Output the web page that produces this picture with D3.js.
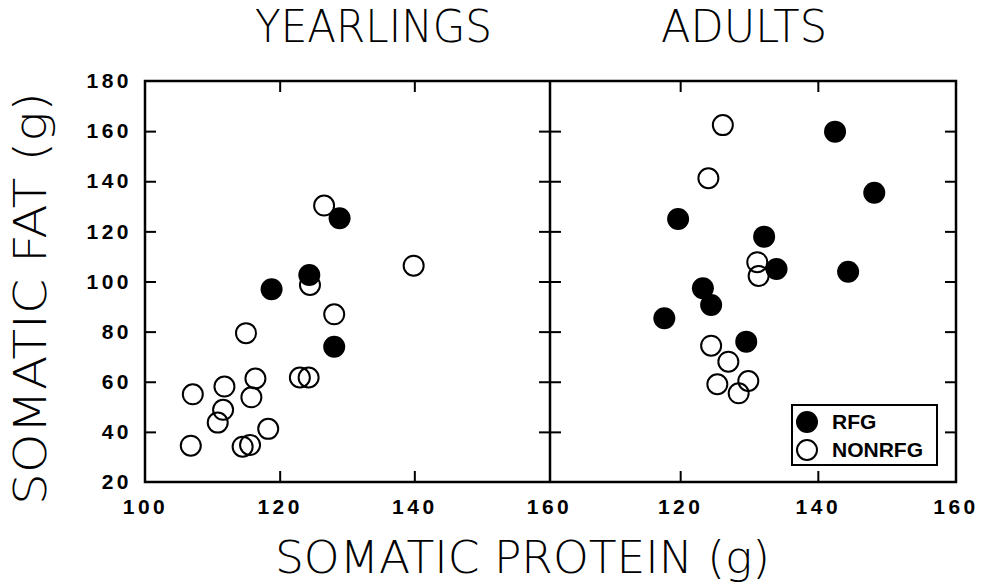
<!DOCTYPE html>
<html>
<head>
<meta charset="utf-8">
<script src="https://cdn.jsdelivr.net/npm/d3@7"></script>
<style>
  body { margin: 0; background: #fff; }
  .tick-label { font-family: "Liberation Sans", Arial, sans-serif; font-weight: bold; font-size: 21px; letter-spacing: 3.5px; fill: #000; }
  .title { font-family: "DejaVu Sans", sans-serif; font-weight: 200; font-size: 44px; fill: #000; }
</style>
</head>
<body>
<div id="chart"></div>
<script>
// panel titles and axis ticks
const panelNames = ["YEARLINGS", "ADULTS"];
const proteinTicks = [100, 120, 140, 160];
const fatTicks = [20, 40, 60, 80, 100, 120, 140, 160, 180];
const legendLabels = ["RFG", "NONRFG"];

// yearlings, RFG (filled)
const yearlingRfgProtein = [118.8, 124.4, 128.9, 128.1];
const yearlingRfgFat     = [96.9, 102.6, 125.2, 74.0];

// yearlings, NONRFG (open)
const yearlingNonProtein = [126.6, 139.9, 124.5, 128.1, 115.0, 123.0, 124.3, 116.4, 111.8, 107.1, 115.8, 111.6, 110.8, 118.3, 106.8, 114.5, 115.6];
const yearlingNonFat     = [130.3, 106.3, 98.6, 86.9, 79.4, 61.7, 61.7, 61.3, 58.1, 55.0, 53.8, 48.8, 43.7, 41.2, 34.5, 34.1, 34.8];

// adults, RFG (filled)
const adultRfgProtein = [142.5, 148.2, 119.7, 132.2, 134.0, 144.4, 123.3, 124.5, 117.7, 129.6];
const adultRfgFat     = [159.8, 135.4, 124.9, 117.9, 105.0, 103.9, 97.3, 90.6, 85.3, 76.0];

// adults, NONRFG (open)
const adultNonProtein = [126.2, 124.1, 131.2, 131.4, 124.5, 127.0, 129.9, 125.4, 128.5];
const adultNonFat     = [162.4, 141.2, 107.7, 102.2, 74.4, 68.0, 60.3, 59.0, 55.4];

const W = 986, H = 587;
const plotTop = 81, plotBottom = 482, plotLeft = 145, plotMid = 550, plotRight = 956;
const tick = 11;

const svg = d3.select("#chart").append("svg")
    .attr("width", W)
    .attr("height", H);

const y = d3.scaleLinear().domain([20, 180]).range([plotBottom, plotTop]);
const xL = d3.scaleLinear().domain([100, 160]).range([plotLeft, plotMid - 1]);
// right panel's 100 sits a little left of the divider in the original
const xR = d3.scaleLinear().domain([100, 160]).range([542.5, plotRight - 0.5]);

function zip(a, b) { return a.map((v, i) => [v, b[i]]); }

function cleanAxis(g, hideVals) {
    g.select(".domain").remove();
    g.selectAll(".tick line").attr("stroke", "#000").attr("stroke-width", 2);
    if (hideVals) g.selectAll(".tick").filter(d => hideVals.includes(d)).select("line").remove();
}

// y axis with labels on left edge
svg.append("g")
    .attr("transform", `translate(${plotLeft},0)`)
    .call(d3.axisLeft(y).tickValues(fatTicks).tickSizeInner(-tick).tickSizeOuter(0).tickPadding(13))
    .call(g => cleanAxis(g, [20, 180]))
    .call(g => g.selectAll("text").attr("class", "tick-label").attr("font-size", null).attr("font-family", null));

// ticks on divider (both sides) and right edge
svg.append("g").attr("transform", `translate(${plotMid},0)`)
    .call(d3.axisLeft(y).tickValues(fatTicks).tickSize(tick).tickFormat(""))
    .call(g => cleanAxis(g, [20, 180]));
svg.append("g").attr("transform", `translate(${plotMid},0)`)
    .call(d3.axisRight(y).tickValues(fatTicks).tickSize(tick).tickFormat(""))
    .call(g => cleanAxis(g, [20, 180]));
svg.append("g").attr("transform", `translate(${plotRight},0)`)
    .call(d3.axisRight(y).tickValues(fatTicks).tickSize(-tick).tickFormat(""))
    .call(g => cleanAxis(g, [20, 180]));

// x axes
[[xL, proteinTicks], [xR, proteinTicks.slice(1)]].forEach(([x, vals]) => {
    svg.append("g")
        .attr("transform", `translate(0,${plotBottom})`)
        .call(d3.axisBottom(x).tickValues(vals).tickSizeInner(-tick).tickSizeOuter(0).tickPadding(17))
        .call(g => cleanAxis(g, [100, 160]))
        .call(g => g.selectAll("text").attr("class", "tick-label").attr("font-size", null).attr("font-family", null));
    svg.append("g")
        .attr("transform", `translate(0,${plotTop})`)
        .call(d3.axisTop(x).tickValues(vals).tickSize(-tick).tickFormat(""))
        .call(g => cleanAxis(g, [100, 160]));
});

// frame
svg.append("rect")
    .attr("x", plotLeft).attr("y", plotTop)
    .attr("width", plotRight - plotLeft).attr("height", plotBottom - plotTop)
    .attr("fill", "none").attr("stroke", "#000").attr("stroke-width", 2.5);
svg.append("line")
    .attr("x1", plotMid).attr("x2", plotMid).attr("y1", plotTop).attr("y2", plotBottom)
    .attr("stroke", "#000").attr("stroke-width", 2.5);

// points
function drawPoints(x, protein, fat, filled) {
    svg.append("g").selectAll("circle")
        .data(zip(protein, fat))
        .enter().append("circle")
        .attr("cx", d => x(d[0]))
        .attr("cy", d => y(d[1]))
        .attr("r", filled ? 11 : 10)
        .attr("fill", filled ? "#000" : "none")
        .attr("stroke", "#000")
        .attr("stroke-width", filled ? 0 : 2);
}
drawPoints(xL, yearlingNonProtein, yearlingNonFat, false);
drawPoints(xL, yearlingRfgProtein, yearlingRfgFat, true);
drawPoints(xR, adultNonProtein, adultNonFat, false);
drawPoints(xR, adultRfgProtein, adultRfgFat, true);

// legend
const legend = svg.append("g").attr("transform", "translate(792,405)");
legend.append("rect")
    .attr("width", 145).attr("height", 60)
    .attr("fill", "#fff").attr("stroke", "#000").attr("stroke-width", 2);
legendLabels.forEach((lab, i) => {
    legend.append("circle")
        .attr("cx", 15).attr("cy", 17 + i * 28)
        .attr("r", i === 0 ? 11 : 10)
        .attr("fill", i === 0 ? "#000" : "none")
        .attr("stroke", "#000").attr("stroke-width", i === 0 ? 0 : 2);
    legend.append("text")
        .attr("x", 40).attr("y", 24 + i * 28)
        .style("font-family", "Liberation Sans, Arial, sans-serif")
        .style("font-weight", "bold").style("font-size", "21px")
        .text(lab);
});

// titles
svg.append("text").attr("class", "title")
    .attr("x", 255).attr("y", 42)
    .attr("textLength", 237).attr("lengthAdjust", "spacingAndGlyphs")
    .text(panelNames[0]);
svg.append("text").attr("class", "title")
    .attr("x", 661).attr("y", 42)
    .attr("textLength", 166).attr("lengthAdjust", "spacingAndGlyphs")
    .text(panelNames[1]);

svg.append("text").attr("class", "title")
    .attr("x", 275).attr("y", 573)
    .attr("textLength", 495).attr("lengthAdjust", "spacingAndGlyphs")
    .text("SOMATIC PROTEIN (g)");

svg.append("text").attr("class", "title")
    .attr("transform", "translate(46,505) rotate(-90)")
    .attr("textLength", 413).attr("lengthAdjust", "spacingAndGlyphs")
    .text("SOMATIC FAT (g)");
</script>
</body>
</html>
